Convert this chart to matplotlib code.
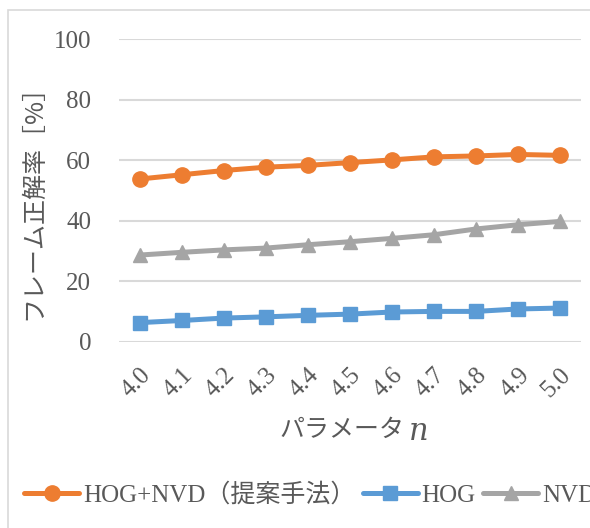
import matplotlib
matplotlib.use("Agg")
import matplotlib.pyplot as plt
from matplotlib.patches import Rectangle

# Data
params = ["4.0", "4.1", "4.2", "4.3", "4.4", "4.5", "4.6", "4.7", "4.8", "4.9", "5.0"]
hog_nvd = [53.8, 55.2, 56.6, 57.7, 58.3, 59.2, 60.1, 61.1, 61.4, 61.9, 61.6]
hog = [6.4, 7.1, 7.9, 8.3, 8.8, 9.2, 9.9, 10.1, 10.1, 10.9, 11.2]
nvd = [28.7, 29.6, 30.4, 31.0, 32.1, 33.1, 34.2, 35.4, 37.3, 38.7, 39.8]
series_names = ["HOG+NVD（提案手法）", "HOG", "NVD"]
y_ticks = [0, 20, 40, 60, 80, 100]

TEXT = "#595959"
GRID = "#d9d9d9"
FAM = ["Liberation Serif", "Noto Sans CJK JP"]
FS = 18

W, H = 590, 528
fig = plt.figure(figsize=(W / 100, H / 100), dpi=100)
fig.patch.set_facecolor("white")

# Chart-area border
fig.patches.append(Rectangle((7.5 / W, -0.2), 1.5, (H - 10) / H + 0.2,
                             transform=fig.transFigure, fill=False,
                             edgecolor=GRID, lw=1.2))

ax = fig.add_axes([119 / W, 1 - 342 / H, (581 - 119) / W, (342 - 39) / H])
x = list(range(len(params)))

ax.plot(x, hog_nvd, color="#ED7D31", lw=3.6, marker="o", ms=11,
        solid_capstyle="round", label=series_names[0], zorder=3)
ax.plot(x, hog, color="#5B9BD5", lw=3.6, marker="s", ms=10.5,
        solid_capstyle="round", label=series_names[1], zorder=3)
ax.plot(x, nvd, color="#A5A5A5", lw=3.6, marker="^", ms=10,
        solid_capstyle="round", label=series_names[2], zorder=3)

ax.set_xlim(-0.5, len(params) - 0.5)
ax.set_ylim(0, 100)
ax.set_yticks(y_ticks)
ax.set_yticklabels([str(v) for v in y_ticks], family=FAM, fontsize=FS, color=TEXT)
ax.set_xticks(x)
ax.set_xticklabels(params, family=FAM, fontsize=FS, color=TEXT,
                   rotation=45, ha="right", va="top", rotation_mode="anchor")
ax.tick_params(axis="both", length=0)
ax.tick_params(axis="y", pad=20)
ax.tick_params(axis="x", pad=16)
ax.grid(axis="y", color=GRID, lw=1.5)
ax.set_axisbelow(True)
for s in ax.spines.values():
    s.set_visible(False)

# Axis titles
fig.text(33 / W, 1 - 196 / H, "フレーム正解率［%］", rotation=90,
         ha="center", va="center", family=["Noto Sans CJK JP"],
         fontsize=FS, color=TEXT)
fig.text(404 / W, 1 - 430 / H, "パラメータ", ha="right", va="center",
         family=["Noto Sans CJK JP"], fontsize=FS, color=TEXT)
fig.text(409 / W, 1 - 432 / H, "n", ha="left", va="center",
         family="DejaVu Serif", style="italic", fontsize=FS + 4, color=TEXT)

# Legend along the bottom
leg = fig.legend(loc="center left", bbox_to_anchor=(14 / W, 1 - 495 / H),
                 ncol=3, frameon=False, handlelength=2.2, handletextpad=0.15,
                 columnspacing=0.3, borderaxespad=0,
                 prop={"family": FAM, "size": FS})
for t in leg.get_texts():
    t.set_color(TEXT)

fig.savefig("out.png", dpi=100, facecolor="white")
